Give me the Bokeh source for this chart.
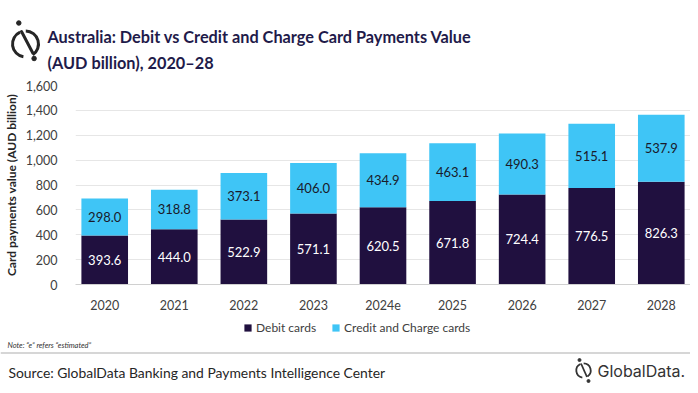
from bokeh.plotting import figure
from bokeh.models import ColumnDataSource, Range1d, FactorRange, NumeralTickFormatter, Legend, LegendItem
from bokeh.layouts import column
from bokeh.core.properties import value
from bokeh.embed import file_html
from bokeh.resources import INLINE

# ---- data ----
years = ["2020", "2021", "2022", "2023", "2024e", "2025", "2026", "2027", "2028"]
debit = [393.6, 444.0, 522.9, 571.1, 620.5, 671.8, 724.4, 776.5, 826.3]
credit = [298.0, 318.8, 373.1, 406.0, 434.9, 463.1, 490.3, 515.1, 537.9]
y_ticks = [0, 200, 400, 600, 800, 1000, 1200, 1400, 1600]
series_names = ["Debit cards", "Credit and Charge cards"]

title_lines = ["Australia: Debit vs Credit and Charge Card Payments Value",
               "(AUD billion), 2020\u201328"]
y_label = "Card payments value (AUD billion)"
note_text = "Note: \u201ce\u201d refers \u201cestimated\u201d"
source_text = "Source: GlobalData Banking and Payments Intelligence Center"
brand_text = "GlobalData."

DEBIT_C = "#20103f"
CREDIT_C = "#3fc5f6"
TITLE_C = "#1f1b4a"
TEXT_C = "#404040"
FONT = "Lato"
W = 690

def blank(y0, y1):
    p = figure(width=W, height=y1 - y0, x_range=Range1d(0, W), y_range=Range1d(y1, y0),
               output_backend="svg", toolbar_location=None, min_border=0,
               x_axis_location=None, y_axis_location=None, frame_align=False)
    p.grid.visible = False
    p.outline_line_color = None
    p.background_fill_color = "white"
    p.border_fill_color = "white"
    return p

# ---- header ----
h = blank(0, 75)
h.text(x=[47, 47], y=[35.5, 61.5], text=title_lines, text_font=value(FONT), text_font_size="16.3px",
       text_font_style="bold", text_color=TITLE_C, text_baseline="alphabetic")
LOGO_C = "#262626"
h.arc(x=[25, 25], y=[43.5, 43.5], radius=13, start_angle=[2.0, 5.3], end_angle=[4.55, 1.55],
      direction="anticlock", line_width=3, line_color=LOGO_C)
h.segment(x0=[21], y0=[31], x1=[32.3], y1=[52.5], line_width=3, line_color=LOGO_C, line_cap="round")
h.scatter(x=[18.3, 33.6], y=[22.5, 58], size=4.5, color=LOGO_C)

# ---- chart ----
src = ColumnDataSource(dict(
    years=years, debit=debit, credit=credit,
    debit_mid=[d / 2 for d in debit],
    credit_mid=[d + c / 2 for d, c in zip(debit, credit)],
    debit_txt=["%.1f" % d for d in debit],
    credit_txt=["%.1f" % c for c in credit],
))

c = figure(width=W, height=237, x_range=FactorRange(factors=years, range_padding=-0.0178),
           y_range=Range1d(0, 1600),
           output_backend="svg", toolbar_location=None, frame_align=False,
           min_border_left=73, min_border_right=0, min_border_top=10, min_border_bottom=26)
c.outline_line_color = None
c.background_fill_color = "white"
c.border_fill_color = "white"

rs = c.vbar_stack(["debit", "credit"], x="years", width=0.67, color=[DEBIT_C, CREDIT_C],
                  line_color=None, source=src)

c.text(x="years", y="debit_mid", text="debit_txt", source=src, text_align="center",
       text_baseline="middle", text_color="white", text_font=value(FONT), text_font_size="13px")
c.text(x="years", y="credit_mid", text="credit_txt", source=src, text_align="center",
       text_baseline="middle", text_color="#1a1a2a", text_font=value(FONT), text_font_size="13px")

c.xgrid.grid_line_color = None
c.ygrid.grid_line_color = "#e6e6e6"
c.yaxis.ticker = y_ticks
c.yaxis.formatter = NumeralTickFormatter(format="0,0")
c.yaxis.axis_line_color = None
c.yaxis.major_tick_line_color = None
c.yaxis.minor_tick_line_color = None
c.yaxis.major_label_standoff = 12
c.yaxis.axis_label = y_label
c.yaxis.axis_label_text_font = FONT
c.yaxis.axis_label_text_font_size = "12px"
c.yaxis.axis_label_text_font_style = "bold"
c.yaxis.axis_label_text_color = "#262626"
c.yaxis.axis_label_standoff = 4
c.xaxis.axis_line_color = "#d0d0d0"
c.xaxis.major_tick_line_color = None
c.xaxis.minor_tick_line_color = None
c.xaxis.major_label_standoff = 9
for ax in (c.xaxis, c.yaxis):
    ax.major_label_text_font = FONT
    ax.major_label_text_font_size = "12.5px"
    ax.major_label_text_color = TEXT_C

# ---- footer (with legend) ----
f = blank(312, 385)
# legend swatches: renderers that share the series colours (kept outside the visible range)
lg_src = ColumnDataSource(dict(x=[0], top=[0]))
d1 = f.vbar(x="x", top="top", width=0, color=DEBIT_C, line_color=None, source=lg_src)
d2 = f.vbar(x="x", top="top", width=0, color=CREDIT_C, line_color=None, source=lg_src)
legend = Legend(items=[LegendItem(label=series_names[0], renderers=[d1]),
                       LegendItem(label=series_names[1], renderers=[d2])],
                orientation="horizontal", location=(243, 50), border_line_color=None,
                background_fill_alpha=0, glyph_width=9, glyph_height=9, label_standoff=4,
                spacing=15, padding=0, margin=0, label_text_font=FONT,
                label_text_font_size="12px", label_text_color=TEXT_C)
f.add_layout(legend)

f.text(x=[7], y=[345], text=[note_text], text_font=value(FONT), text_font_size="7.5px",
       text_font_style="italic", text_color="#333333", text_baseline="middle")
f.segment(x0=[0], y0=[352.5], x1=[W], y1=[352.5], line_color="#c8c8c8", line_width=1.5)
f.text(x=[8], y=[372], text=[source_text], text_font=value(FONT), text_font_size="13.9px",
       text_color="#262626", text_baseline="middle")
f.arc(x=[583, 583], y=[370, 370], radius=7.2, start_angle=[2.0, 5.3], end_angle=[4.55, 1.55],
      direction="anticlock", line_width=1.8, line_color="#333333")
f.segment(x0=[580.5], y0=[363], x1=[586.5], y1=[376.5], line_width=1.8, line_color="#333333")
f.scatter(x=[579, 588], y=[359.5, 380.5], size=3, color="#333333")
f.text(x=[597], y=[370], text=[brand_text], text_font=value("Inter"), text_font_size="16px",
       text_color="#333333", text_baseline="middle")

layout = column(h, c, f, spacing=0)
open("out.html", "w").write(file_html(layout, INLINE))
